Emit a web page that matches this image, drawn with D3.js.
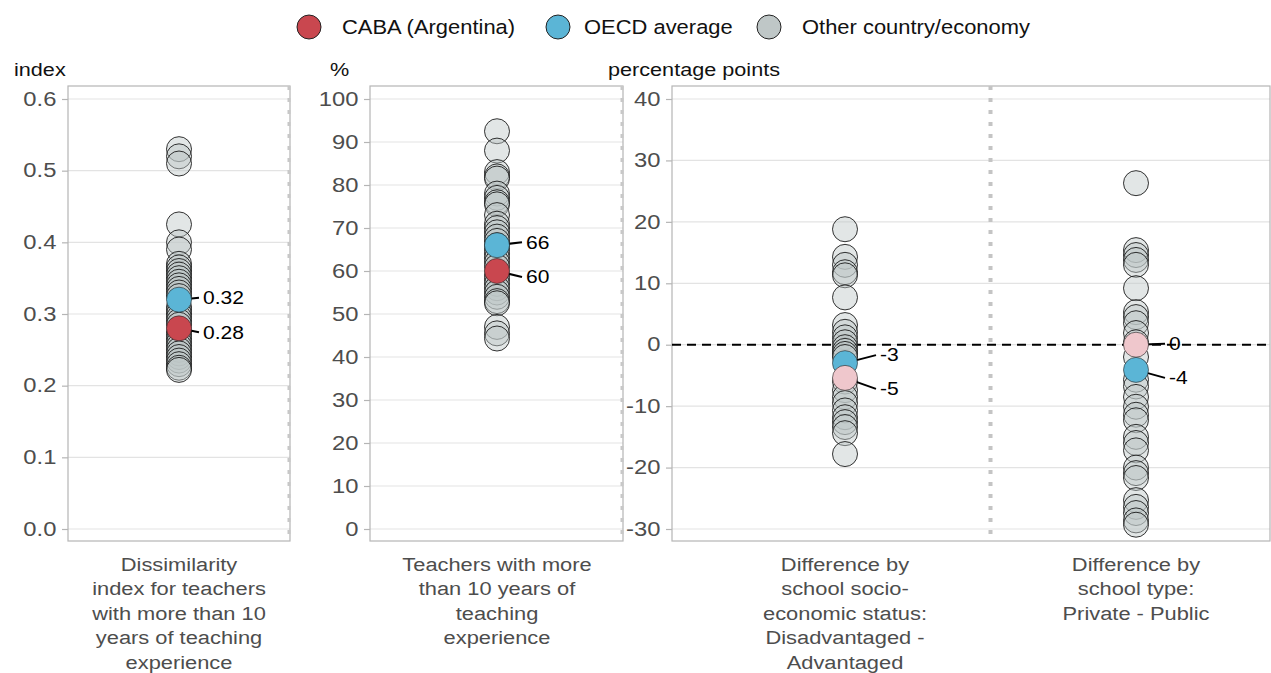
<!DOCTYPE html>
<html>
<head>
<meta charset="utf-8">
<script src="https://cdn.jsdelivr.net/npm/d3@7"></script>
<style>
  body { margin: 0; background: #fff; }
  text { font-family: "Liberation Sans", Arial, sans-serif; }
</style>
</head>
<body>
<div id="chart"></div>
<script>
// ---- data ----
var legendLabels = ["CABA (Argentina)", "OECD average", "Other country/economy"];

var dissimOther = [0.53, 0.52, 0.51, 0.425, 0.40, 0.39, 0.37, 0.365, 0.36, 0.355, 0.35, 0.345, 0.34, 0.335, 0.33,
  0.325, 0.31, 0.305, 0.30, 0.295, 0.29, 0.285, 0.275, 0.27, 0.265, 0.26, 0.255, 0.25, 0.245, 0.24, 0.235, 0.23, 0.225, 0.222];
var dissimOECD = 0.32, dissimCABA = 0.28;

var teachOther = [92.5, 88, 83, 82, 81.5, 78, 77, 76, 75.5, 73, 71, 70, 69, 68, 67, 66, 65, 64, 63, 62, 61,
  59, 58, 57, 56, 55, 54, 53, 52.5, 47, 45.5, 44.3];
var teachOECD = 66, teachCABA = 60;

var diffCats = ["Difference by school socio-economic status: Disadvantaged - Advantaged",
                "Difference by school type: Private - Public"];
var sesOther = [18.8, 14.3, 13, 11.8, 11.3, 7.7, 3.2, 2.1, 1.2, 0.4, -0.4, -1, -1.5, -2, -6, -7.4, -8.5, -9.5,
  -10.7, -11.8, -12.6, -13.4, -14.4, -17.8];
var sesOECD = -3, sesCABA = -5.4;
var typeOther = [26.3, 15.4, 14.6, 13.8, 13, 9.2, 5.3, 4.5, 3.5, 1.9, 0.4, -2, -5.7, -6.8, -8.5, -10.1, -11.4,
  -12.3, -15, -16, -17.2, -20, -20.9, -21.7, -25.3, -26.4, -27.4, -28.6, -29.3];
var typeOECD = -4.1, typeCABA = 0;

var labelsSES = ["-3", "-5"], labelsType = ["0", "-4"];

// ---- styles ----
var colCABA = "#c9474f", colOECD = "#5bb5d6", colOther = "#bfc7c7", colCABAns = "#efc7cc";
var R = 12.5;
var SX = 1.17; // text in the picture is a bit wider than Arial

var W = 1271, H = 673;
var svg = d3.select("#chart").append("svg").attr("width", W).attr("height", H);

function addText(parent, x, y, str, size, fill, sx) {
  return parent.append("text")
    .attr("transform", "translate(" + x + "," + y + ") scale(" + (sx || SX) + ",1)")
    .attr("dy", "0.35em").attr("font-size", size).attr("fill", fill).text(str);
}

// legend
var legX = [309, 558, 769], legTX = [342, 584, 802];
var leg = svg.append("g");
legendLabels.forEach(function(l, i) {
  leg.append("circle").attr("cx", legX[i]).attr("cy", 27).attr("r", 12)
    .attr("fill", [colCABA, colOECD, colOther][i]).attr("stroke", "#222").attr("stroke-width", 1);
  addText(leg, legTX[i], 27, l, 19.5, "#111", 1.125);
});

var pTop = 86, pBot = 541;

function panel(opt) {
  var g = svg.append("g");
  var y = d3.scaleLinear().domain(opt.domain).range([529, 99]);
  // grid
  g.selectAll(".grid").data(opt.ticks).enter().append("line")
    .attr("x1", opt.x0).attr("x2", opt.x1)
    .attr("y1", d => y(d)).attr("y2", d => y(d))
    .attr("stroke", "#e3e3e3").attr("stroke-width", 1.2);
  // border
  g.append("rect").attr("x", opt.x0).attr("y", pTop).attr("width", opt.x1 - opt.x0).attr("height", pBot - pTop)
    .attr("fill", "none").attr("stroke", "#b5b5b5").attr("stroke-width", 1.2);
  if (opt.rightDots) {
    g.append("line").attr("x1", opt.x1 - 1).attr("x2", opt.x1 - 1).attr("y1", pTop).attr("y2", pBot)
      .attr("stroke", "#c8c8c8").attr("stroke-width", 3).attr("stroke-dasharray", "4,8");
  }
  // y axis
  var ax = g.append("g").attr("transform", "translate(" + opt.x0 + ",0)")
    .call(d3.axisLeft(y).tickValues(opt.ticks).tickFormat(opt.fmt).tickSize(6).tickPadding(3.5));
  ax.select(".domain").remove();
  ax.selectAll(".tick line").attr("stroke", "#b5b5b5").attr("stroke-width", 1.2);
  ax.selectAll(".tick text").attr("font-size", 19.5).attr("fill", "#4d4d4d")
    .attr("transform", "scale(1.22,1)")
    .style("font-family", "Liberation Sans, Arial, sans-serif");
  // unit title
  addText(g, opt.titleX, 70, opt.title, 18.5, "#111");
  return { g: g, y: y };
}

function column(p, cx, other, hi) {
  p.g.append("g").selectAll("circle").data(other).enter().append("circle")
    .attr("cx", cx).attr("cy", d => p.y(d)).attr("r", R)
    .attr("fill", colOther).attr("fill-opacity", 0.45)
    .attr("stroke", "#111").attr("stroke-opacity", 0.85).attr("stroke-width", 1);
  hi.forEach(function(h) {
    p.g.append("line").attr("x1", cx).attr("y1", p.y(h.v))
      .attr("x2", cx + h.dx - 4).attr("y2", p.y(h.v) + h.dy)
      .attr("stroke", "#000").attr("stroke-width", 2);
  });
  hi.forEach(function(h) {
    p.g.append("circle").attr("cx", cx).attr("cy", p.y(h.v)).attr("r", R)
      .attr("fill", h.c).attr("stroke", "#222").attr("stroke-width", 1).attr("stroke-opacity", 0.6);
  });
  hi.forEach(function(h) {
    addText(p.g, cx + h.dx, p.y(h.v) + h.dy, h.label, 18, "#000");
  });
}

function catLabel(x, lines) {
  var t = svg.append("text").attr("text-anchor", "middle").attr("font-size", 19).attr("fill", "#4d4d4d")
    .attr("transform", "translate(" + x + ",571) scale(1.15,1)");
  lines.forEach(function(l, i) {
    t.append("tspan").attr("x", 0).attr("y", i * 24.5).text(l);
  });
}

var plain = function(d) { return String(d); };

// panel 1
var p1 = panel({ x0: 68, x1: 290, domain: [0, 0.6], ticks: d3.range(0, 0.61, 0.1), fmt: d3.format(".1f"),
  title: "index", titleX: 14, rightDots: true });
column(p1, 179, dissimOther, [
  { v: dissimOECD, c: colOECD, label: "0.32", dx: 24, dy: -2 },
  { v: dissimCABA, c: colCABA, label: "0.28", dx: 24, dy: 4 }]);
catLabel(179, ["Dissimilarity", "index for teachers", "with more than 10", "years of teaching", "experience"]);

// panel 2
var p2 = panel({ x0: 370, x1: 623, domain: [0, 100], ticks: d3.range(0, 101, 10), fmt: plain,
  title: "%", titleX: 330, rightDots: true });
column(p2, 497, teachOther, [
  { v: teachOECD, c: colOECD, label: "66", dx: 29, dy: -3 },
  { v: teachCABA, c: colCABA, label: "60", dx: 29, dy: 6 }]);
catLabel(497, ["Teachers with more", "than 10 years of", "teaching", "experience"]);

// panel 3
var p3 = panel({ x0: 672, x1: 1270, domain: [-30, 40], ticks: d3.range(-30, 41, 10), fmt: plain,
  title: "percentage points", titleX: 608, rightDots: false });
var xc = d3.scalePoint().domain(diffCats).range([845, 1136]);
var sep = (xc(diffCats[0]) + xc(diffCats[1])) / 2;
p3.g.append("line").attr("x1", sep).attr("x2", sep).attr("y1", pTop).attr("y2", pBot)
  .attr("stroke", "#c4c4c4").attr("stroke-width", 4).attr("stroke-dasharray", "4,8");
p3.g.append("line").attr("x1", 672).attr("x2", 1270).attr("y1", p3.y(0)).attr("y2", p3.y(0))
  .attr("stroke", "#000").attr("stroke-width", 2).attr("stroke-dasharray", "9,6");
column(p3, xc(diffCats[0]), sesOther, [
  { v: sesOECD, c: colOECD, label: labelsSES[0], dx: 35, dy: -8 },
  { v: sesCABA, c: colCABAns, label: labelsSES[1], dx: 35, dy: 11 }]);
column(p3, xc(diffCats[1]), typeOther, [
  { v: typeCABA, c: colCABAns, label: labelsType[0], dx: 33, dy: -1 },
  { v: typeOECD, c: colOECD, label: labelsType[1], dx: 33, dy: 8 }]);
catLabel(xc(diffCats[0]), ["Difference by", "school socio-", "economic status:", "Disadvantaged -", "Advantaged"]);
catLabel(xc(diffCats[1]), ["Difference by", "school type:", "Private - Public"]);
</script>
</body>
</html>
